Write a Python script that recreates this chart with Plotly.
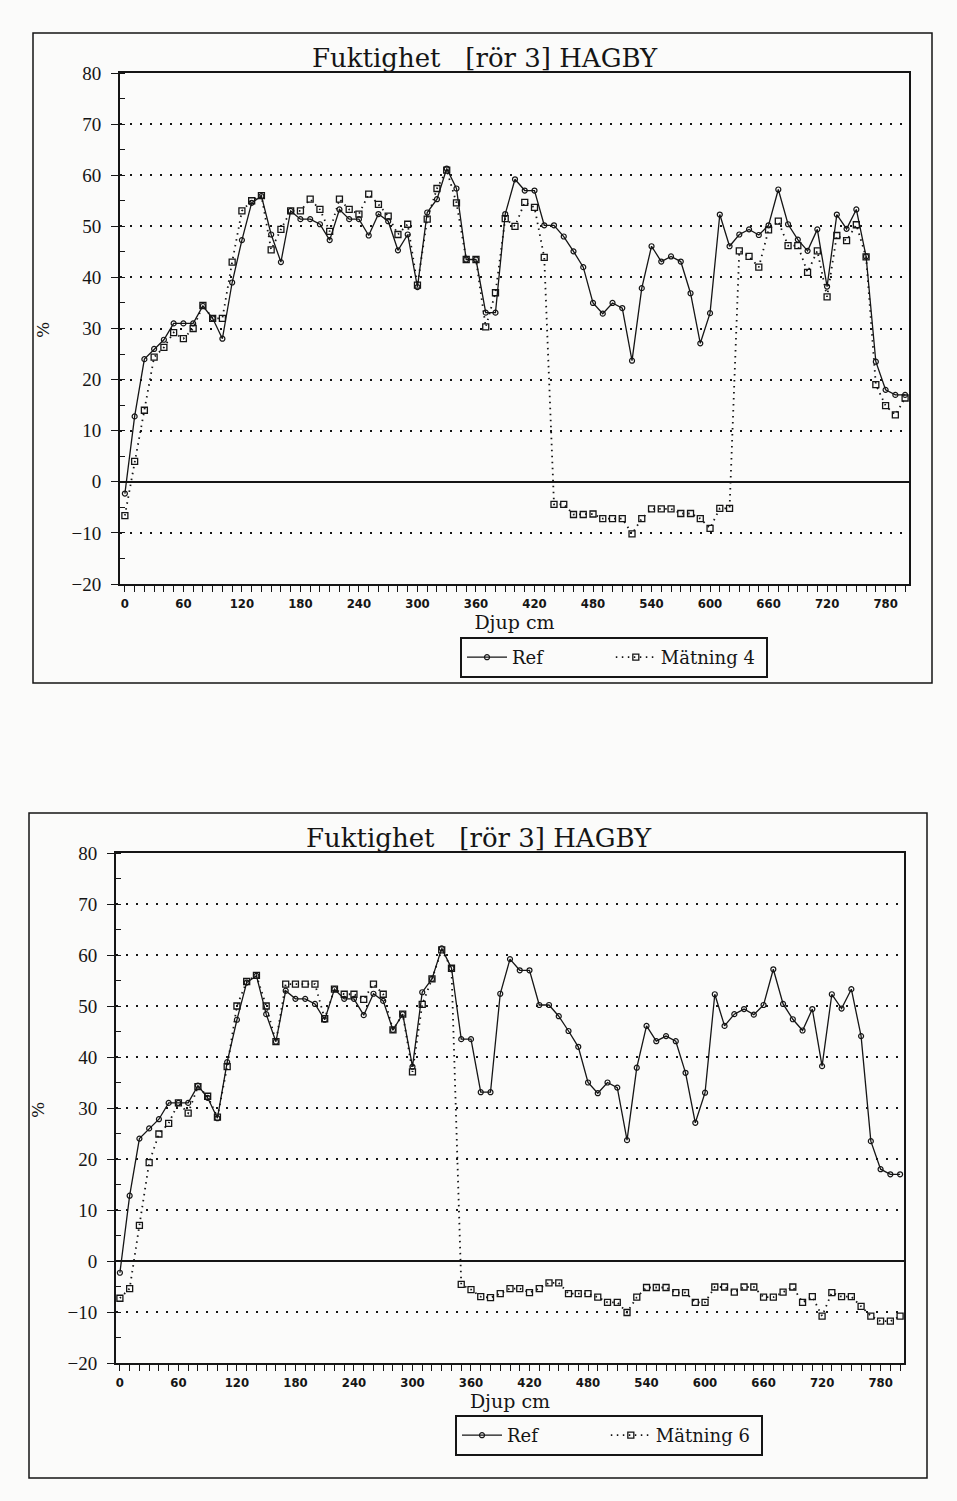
import plotly.graph_objects as go

# ---------------- data ----------------
depth = list(range(0, 801, 10))  # Djup cm

ref = [-2.3, 12.8, 24.0, 26.0, 27.8, 31.0, 31.0, 31.0, 34.4, 32.0,
       28.0, 39.0, 47.3, 54.6, 55.9, 48.4, 43.0, 53.0, 51.4, 51.4,
       50.4, 47.3, 53.3, 51.4, 51.4, 48.2, 52.4, 51.0, 45.3, 48.4,
       38.1, 52.7, 55.3, 61.3, 57.4, 43.5, 43.5, 33.1, 33.1, 52.4,
       59.2, 57.0, 57.0, 50.2, 50.2, 48.0, 45.1, 42.0, 35.0, 32.9,
       35.0, 34.0, 23.7, 37.9, 46.1, 43.1, 44.1, 43.1, 36.9, 27.1,
       33.0, 52.3, 46.1, 48.4, 49.4, 48.3, 50.2, 57.2, 50.4, 47.4,
       45.2, 49.4, 38.2, 52.3, 49.5, 53.3, 44.1, 23.5, 18.0, 17.0,
       17.0]

matning4 = [-6.6, 4.0, 14.0, 24.4, 26.3, 29.2, 28.0, 30.0, 34.5, 32.0,
            32.0, 43.0, 53.0, 55.0, 56.0, 45.4, 49.4, 53.0, 53.0, 55.3,
            53.3, 49.0, 55.3, 53.3, 52.4, 56.3, 54.3, 52.0, 48.4, 50.4,
            38.5, 51.4, 57.4, 61.0, 54.6, 43.5, 43.5, 30.3, 37.0, 51.5,
            50.0, 54.7, 53.7, 43.9, -4.4, -4.4, -6.4, -6.4, -6.3, -7.2,
            -7.2, -7.2, -10.2, -7.2, -5.3, -5.3, -5.3, -6.2, -6.2, -7.2,
            -9.1, -5.2, -5.2, 45.2, 44.1, 42.0, 49.3, 51.0, 46.2, 46.2,
            41.0, 45.2, 36.2, 48.2, 47.2, 50.3, 44.0, 19.0, 14.9, 13.1,
            16.4]

matning6 = [-7.3, -5.4, 7.0, 19.3, 24.9, 27.0, 31.0, 29.0, 34.2, 32.3,
            28.2, 38.1, 50.0, 54.8, 56.0, 50.0, 43.0, 54.3, 54.3, 54.3,
            54.3, 47.5, 53.3, 52.3, 52.3, 51.3, 54.3, 52.3, 45.3, 48.4,
            37.1, 50.3, 55.3, 61.0, 57.4, -4.6, -5.6, -7.0, -7.2, -6.4,
            -5.4, -5.4, -6.2, -5.4, -4.3, -4.3, -6.4, -6.4, -6.4, -7.1,
            -8.1, -8.1, -10.1, -7.1, -5.2, -5.2, -5.2, -6.2, -6.2, -8.1,
            -8.1, -5.1, -5.1, -6.1, -5.1, -5.1, -7.1, -7.1, -6.1, -5.1,
            -8.1, -7.0, -10.8, -6.2, -7.0, -7.0, -8.9, -10.8, -11.8, -11.8,
            -10.8]

x_ticks = list(range(0, 781, 60))
y_ticks = list(range(-20, 81, 10))

title_text = "Fuktighet\u00a0\u00a0\u00a0[rör 3] HAGBY"
x_title = "Djup cm"
y_title = "%"
ref_name = "Ref"
pad = "\u00a0" * 11   # visual gap between the two legend entries

# ---------------- layout helpers ----------------
W, H = 957, 1501
INK = "#151515"
SERIF = "DejaVu Serif, Liberation Serif, serif"
NARROW = "Liberation Sans Narrow, DejaVu Sans Condensed, Arial Narrow, sans-serif"


def fx(p):
    return p / W


def fy(p):
    return 1 - p / H


fig = go.Figure()

panels = [
    dict(m=matning4, name="Mätning 4", xa="x", ya="y", lg="legend"),
    dict(m=matning6, name="Mätning 6", xa="x2", ya="y2", lg="legend2"),
]
for p in panels:
    fig.add_trace(go.Scatter(
        x=depth, y=ref, name=ref_name + pad, mode="lines+markers",
        line=dict(color=INK, width=1.3),
        marker=dict(symbol="circle-open", size=5, color=INK, line=dict(width=1.2)),
        xaxis=p["xa"], yaxis=p["ya"], legend=p["lg"]))
    fig.add_trace(go.Scatter(
        x=depth, y=p["m"], name=p["name"] + "\u00a0", mode="lines+markers",
        line=dict(color=INK, width=1.8, dash="1.5px,4.5px"),
        marker=dict(symbol="square-open", size=6, color=INK, line=dict(width=1.3)),
        xaxis=p["xa"], yaxis=p["ya"], legend=p["lg"]))


def xaxis_cfg(dom, anchor, rng):
    return dict(
        domain=dom, anchor=anchor, range=rng,
        tickmode="array", tickvals=x_ticks,
        ticks="outside", ticklen=6, tickwidth=1.3, tickcolor=INK,
        minor=dict(tick0=0, dtick=10, ticks="outside", ticklen=6,
                   tickwidth=1.3, tickcolor=INK, showgrid=False),
        showline=True, linewidth=2, linecolor=INK, mirror=True,
        showgrid=False, zeroline=False,
        tickfont=dict(family=NARROW, size=13, color=INK, weight="bold"),
        title=dict(text=x_title, font=dict(family=SERIF, size=19, color=INK),
                   standoff=3),
    )


def yaxis_cfg(dom, anchor):
    return dict(
        domain=dom, anchor=anchor, range=[-20, 80],
        tickmode="array", tickvals=y_ticks,
        ticks="outside", ticklen=7, tickwidth=1.3, tickcolor=INK,
        minor=dict(dtick=5, ticks="inside", ticklen=5, tickwidth=1.3,
                   tickcolor=INK, showgrid=False),
        showline=True, linewidth=2, linecolor=INK, mirror=True,
        showgrid=True, gridcolor=INK, gridwidth=1.8, griddash="2px,8px",
        zeroline=True, zerolinecolor=INK, zerolinewidth=1.6,
        tickfont=dict(family="Liberation Serif, serif", size=19, color=INK),
        ticklabelstandoff=6,
    )


legend_common = dict(xanchor="left", yanchor="top", orientation="h",
                     bordercolor=INK, borderwidth=2, bgcolor="rgba(0,0,0,0)",
                     itemwidth=40,
                     font=dict(family=SERIF, size=18, color=INK))

layout = dict(
    width=W, height=H,
    margin=dict(l=0, r=0, t=0, b=0, autoexpand=False),
    paper_bgcolor="#fbfbfa", plot_bgcolor="#fbfbfa",
    showlegend=True,
    xaxis=xaxis_cfg([fx(120), fx(909)], "y", [-5, 804]),
    yaxis=yaxis_cfg([fy(584), fy(73)], "x"),
    xaxis2=xaxis_cfg([fx(116), fx(904)], "y2", [-4, 804]),
    yaxis2=yaxis_cfg([fy(1363), fy(853)], "x2"),
    legend=dict(x=fx(460), y=fy(637), **legend_common),
    legend2=dict(x=fx(455), y=fy(1415), **legend_common),
)
fig.update_layout(**layout)

# outer frames around each figure
for (x0, y0, x1, y1) in [(33, 33, 932, 683), (29, 813, 927, 1478)]:
    fig.add_shape(type="rect", xref="paper", yref="paper",
                  x0=fx(x0), x1=fx(x1), y0=fy(y1), y1=fy(y0),
                  line=dict(color=INK, width=1.5))

# titles and y labels
for (tx, ty) in [(485, 58), (479, 838)]:
    fig.add_annotation(text=title_text, xref="paper", yref="paper",
                       x=fx(tx), y=fy(ty), showarrow=False,
                       xanchor="center", yanchor="middle",
                       font=dict(family=SERIF, size=26, color=INK))
for (tx, ty) in [(43, 330), (38, 1110)]:
    fig.add_annotation(text=y_title, xref="paper", yref="paper",
                       x=fx(tx), y=fy(ty), showarrow=False, textangle=-90,
                       xanchor="center", yanchor="middle",
                       font=dict(family=SERIF, size=17, color=INK))

fig.write_html(
    "out.html",
    config={"displayModeBar": False},
    post_script="document.body.style.margin='0';"
                "document.body.style.overflow='hidden';",
)
